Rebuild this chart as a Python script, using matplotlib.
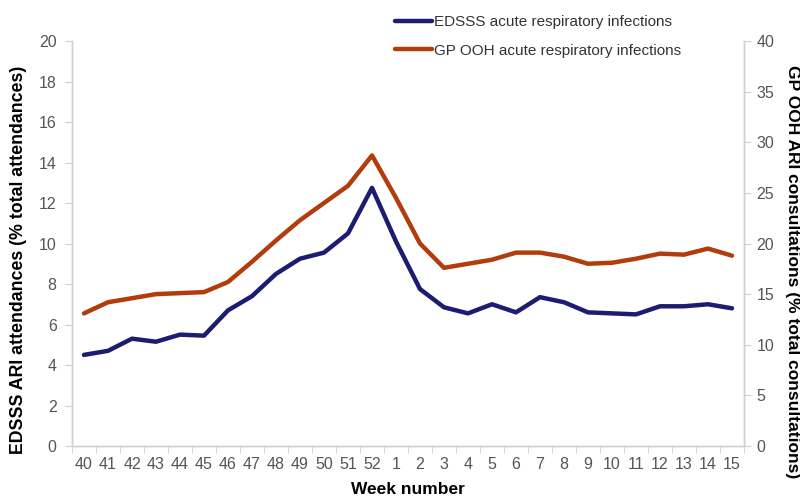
import matplotlib
matplotlib.use("Agg")
import matplotlib.pyplot as plt

plt.rcParams['font.family'] = ['Liberation Sans', 'DejaVu Sans']

weeks = ["40", "41", "42", "43", "44", "45", "46", "47", "48", "49", "50", "51", "52",
         "1", "2", "3", "4", "5", "6", "7", "8", "9", "10", "11", "12", "13", "14", "15"]
edsss = [4.5, 4.7, 5.3, 5.15, 5.5, 5.45, 6.7, 7.4, 8.5, 9.25, 9.55, 10.5, 12.75,
         10.1, 7.75, 6.85, 6.55, 7.0, 6.6, 7.35, 7.1, 6.6, 6.55, 6.5, 6.9, 6.9, 7.0, 6.8]
gpooh = [13.1, 14.2, 14.6, 15.0, 15.1, 15.2, 16.2, 18.2, 20.3, 22.3, 24.0, 25.7, 28.7,
         24.5, 20.0, 17.6, 18.0, 18.4, 19.1, 19.1, 18.7, 18.0, 18.1, 18.5, 19.0, 18.9, 19.5, 18.8]

blue = '#1c1c72'
orange = '#b23c0c'
grey_axis = '#d0d0d0'
tick_col = '#555555'

fig = plt.figure(figsize=(8, 4.96), dpi=100)
ax = fig.add_axes([0.09, 0.1008, 0.84, 0.8165])
ax2 = ax.twinx()

x = list(range(len(weeks)))
l1, = ax.plot(x, edsss, color=blue, lw=3.2, solid_capstyle='round', solid_joinstyle='round',
              label='EDSSS acute respiratory infections')
l2, = ax2.plot(x, gpooh, color=orange, lw=3.2, solid_capstyle='round', solid_joinstyle='round',
               label='GP OOH acute respiratory infections')

ax.set_xlim(-0.5, len(weeks) - 0.5)
ax.set_ylim(0, 20)
ax2.set_ylim(0, 40)
ax.set_yticks(range(0, 21, 2))
ax2.set_yticks(range(0, 41, 5))
ax.set_xticks(x)
ax.set_xticklabels(weeks)
ax.set_xticks([i - 0.5 for i in range(len(weeks) + 1)], minor=True)
ax.tick_params(axis='x', which='major', length=0, pad=8, labelsize=11.5, colors=tick_col)
ax.tick_params(axis='x', which='minor', length=5, color=grey_axis, direction='out')
ax.tick_params(axis='y', length=5, color=grey_axis, labelsize=11.5, labelcolor=tick_col, pad=6)
ax2.tick_params(axis='y', length=5, color=grey_axis, labelsize=11.5, labelcolor=tick_col, pad=4)

for a in (ax, ax2):
    a.spines['top'].set_visible(False)
    for s in ('left', 'right', 'bottom'):
        a.spines[s].set_color(grey_axis)
        a.spines[s].set_linewidth(1)

ax.set_xlabel('Week number', fontsize=12.5, fontweight='bold', labelpad=7)
ax.set_ylabel('EDSSS ARI attendances (% total attendances)', fontsize=12.8, fontweight='bold',
              va='center')
ax.yaxis.set_label_coords(-0.080, 0.46)
ax2.set_ylabel('GP OOH ARI consultations (% total consultations)', fontsize=12.5, fontweight='bold',
               rotation=-90, va='center')
ax2.yaxis.set_label_coords(1.072, 0.43)

leg = fig.legend(handles=[l1, l2], loc='upper left', bbox_to_anchor=(0.477, 0.997), frameon=False,
                 fontsize=11, handlelength=2.4, handletextpad=0.1, labelspacing=0.95)
for t in leg.get_texts():
    t.set_color('#333333')

fig.savefig('out.png', dpi=100)
